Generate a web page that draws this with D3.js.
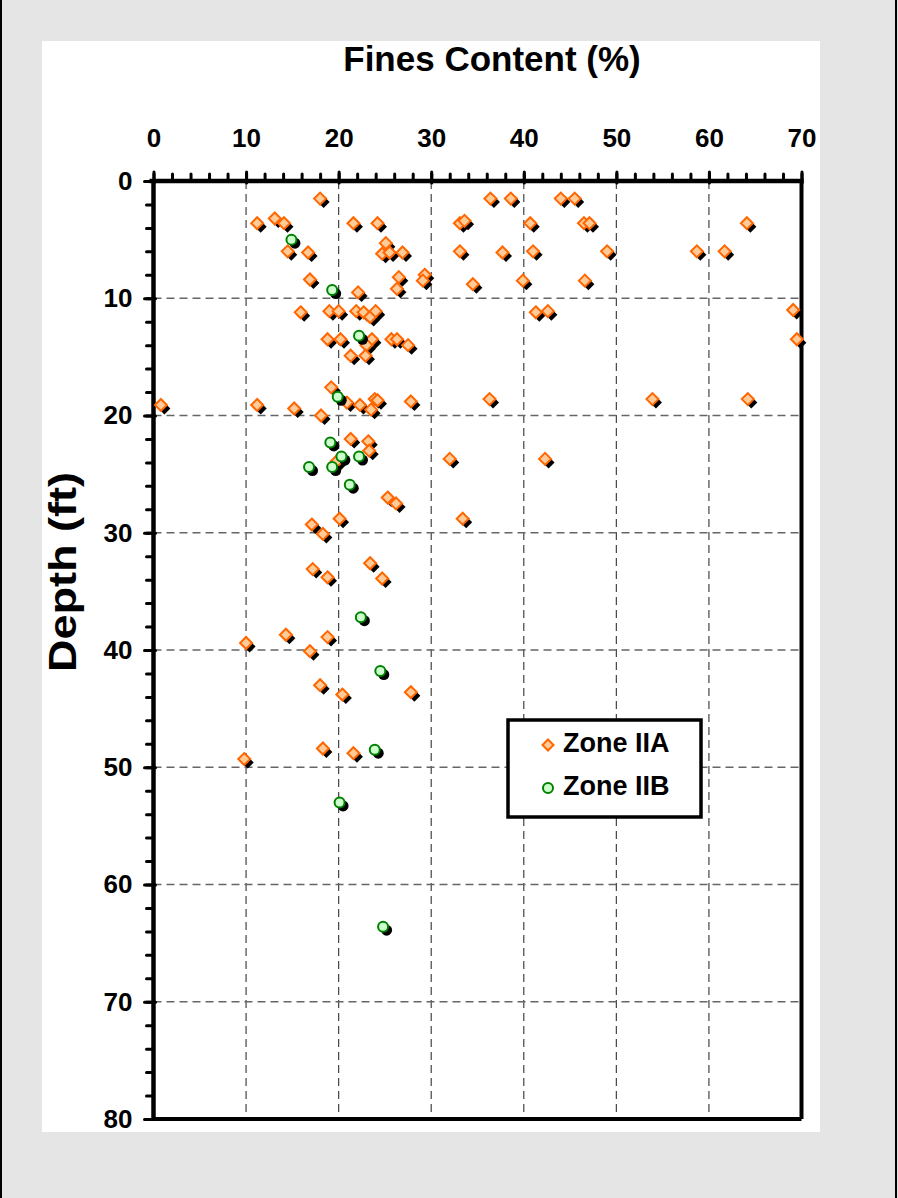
<!DOCTYPE html>
<html>
<head>
<meta charset="utf-8">
<script src="https://cdn.jsdelivr.net/npm/d3@7"></script>
<style>
  html, body { margin: 0; padding: 0; background: #e5e5e5; }
  svg { display: block; }
  text { font-family: "Liberation Sans", Arial, sans-serif; font-weight: bold; fill: #000; }
</style>
</head>
<body>
<svg id="chart" width="898" height="1198"></svg>
<script>
// Fines content (%) and depth (ft) per sample, by zone
const zoneIIA_fines = [18.0, 36.4, 38.6, 44.0, 45.5, 11.2, 13.1, 14.1, 21.6, 24.2, 33.1, 33.6, 40.7, 46.5, 47.1, 64.1,
  14.5, 16.7, 25.1, 24.7, 25.5, 26.9, 33.1, 37.7, 41.0, 49.0, 58.7, 61.7,
  16.9, 22.1, 26.5, 26.3, 29.3, 29.1, 34.5, 39.9, 46.6,
  15.9, 19.0, 20.0, 21.9, 22.7, 23.4, 24.0, 41.3, 42.6, 69.1,
  18.8, 20.2, 23.6, 23.0, 25.7, 26.3, 27.5, 21.3, 22.9, 69.5,
  0.8, 11.2, 15.2, 18.1, 19.2, 20.9, 22.3, 23.5, 23.9, 24.2, 27.8, 36.3, 53.9, 64.2,
  21.3, 23.2, 23.3, 19.8, 32.0, 42.3, 25.3, 26.2, 20.1, 33.4, 17.1, 18.3,
  17.2, 18.8, 23.4, 24.7, 10.0, 14.3, 16.9, 18.8, 18.0, 20.4, 27.8, 18.3, 21.6, 9.8];
const zoneIIA_depth = [1.5, 1.5, 1.5, 1.5, 1.5, 3.6, 3.2, 3.6, 3.6, 3.6, 3.6, 3.4, 3.6, 3.6, 3.6, 3.6,
  6.0, 6.1, 5.3, 6.2, 6.1, 6.1, 6.0, 6.1, 6.0, 6.0, 6.0, 6.0,
  8.4, 9.5, 8.2, 9.2, 8.0, 8.5, 8.8, 8.5, 8.5,
  11.2, 11.1, 11.1, 11.1, 11.2, 11.6, 11.1, 11.2, 11.1, 11.0,
  13.5, 13.5, 13.5, 14.0, 13.5, 13.5, 14.0, 14.9, 14.9, 13.5,
  19.1, 19.1, 19.4, 20.0, 17.6, 18.9, 19.1, 19.5, 18.6, 18.7, 18.8, 18.6, 18.6, 18.6,
  22.0, 22.2, 23.0, 23.9, 23.7, 23.7, 27.0, 27.5, 28.8, 28.8, 29.3, 30.1,
  33.1, 33.8, 32.6, 33.9, 39.4, 38.7, 40.1, 38.9, 43.0, 43.8, 43.6, 48.4, 48.8, 49.3];

const zoneIIB_fines = [14.9, 19.3, 22.2, 19.9, 19.1, 20.3, 22.2, 16.8, 19.3, 21.2, 22.4, 24.5, 23.9, 20.1, 24.8];
const zoneIIB_depth = [5.0, 9.3, 13.2, 18.4, 22.3, 23.5, 23.5, 24.4, 24.4, 25.9, 37.2, 41.8, 48.5, 53.0, 63.6];

const seriesNames = ["Zone IIA", "Zone IIB"];
const xTicks = [0, 10, 20, 30, 40, 50, 60, 70];
const yTicks = [0, 10, 20, 30, 40, 50, 60, 70, 80];
const xTitle = "Fines Content (%)";
const yTitle = "Depth (ft)";

const svg = d3.select("#chart");
const W = 898, H = 1198;

// Outer panel and white chart area
svg.append("rect").attr("x", 0).attr("y", 0).attr("width", W).attr("height", H).attr("fill", "#e5e5e5");
svg.append("line").attr("x1", 1).attr("x2", 1).attr("y1", 0).attr("y2", H).attr("stroke", "#000").attr("stroke-width", 2);
svg.append("line").attr("x1", 896).attr("x2", 896).attr("y1", 0).attr("y2", H).attr("stroke", "#000").attr("stroke-width", 2);
svg.append("rect").attr("x", 42).attr("y", 41).attr("width", 778).attr("height", 1091).attr("fill", "#fff");

const x = d3.scaleLinear().domain([0, 70]).range([153.5, 801.5]);
const y = d3.scaleLinear().domain([0, 80]).range([181, 1119]);

// Dashed grid
const grid = svg.append("g");
grid.selectAll("line.vg").data(xTicks.slice(1, -1)).join("line")
  .attr("x1", d => x(d)).attr("x2", d => x(d)).attr("y1", y(0)).attr("y2", y(80))
  .attr("stroke", "#444").attr("stroke-width", 1.2).attr("stroke-dasharray", "8,5");
grid.selectAll("line.hg").data(yTicks.slice(1, -1)).join("line")
  .attr("x1", x(0)).attr("x2", x(70)).attr("y1", d => y(d)).attr("y2", d => y(d))
  .attr("stroke", "#666").attr("stroke-width", 1.5).attr("stroke-dasharray", "8,5");

// Plot frame (right and bottom edges)
svg.append("line").attr("x1", x(70)).attr("x2", x(70)).attr("y1", y(0)).attr("y2", y(80))
  .attr("stroke", "#000").attr("stroke-width", 4);
svg.append("line").attr("x1", x(0)).attr("x2", x(70)).attr("y1", y(80)).attr("y2", y(80))
  .attr("stroke", "#000").attr("stroke-width", 4);

// Axes: minor ticks every 2 units, major every 10
const xMinor = d3.range(0, 70.001, 2);
const yMinor = d3.range(0, 80.001, 2);

const xAxisMinor = svg.append("g").attr("transform", `translate(0,${y(0)})`)
  .call(d3.axisTop(x).tickValues(xMinor).tickSize(7).tickFormat(""));
const xAxisMajor = svg.append("g").attr("transform", `translate(0,${y(0)})`)
  .call(d3.axisTop(x).tickValues(xTicks).tickSize(9).tickPadding(25).tickFormat(d3.format("d")));
const yAxisMinor = svg.append("g").attr("transform", `translate(${x(0)},0)`)
  .call(d3.axisLeft(y).tickValues(yMinor).tickSize(7).tickFormat(""));
const yAxisMajor = svg.append("g").attr("transform", `translate(${x(0)},0)`)
  .call(d3.axisLeft(y).tickValues(yTicks).tickSize(9).tickPadding(12).tickFormat(d3.format("d")));

[xAxisMinor, xAxisMajor, yAxisMinor, yAxisMajor].forEach(g => {
  g.select(".domain").attr("stroke", "#000").attr("stroke-width", 4.5);
  g.selectAll(".tick line").attr("stroke", "#000").attr("stroke-width", 3).attr("stroke-linecap", "round");
  g.selectAll(".tick text").attr("font-size", 26).attr("font-weight", "bold")
    .attr("font-family", "'Liberation Sans', Arial, sans-serif").attr("fill", "#000");
});
// major ticks cross slightly into the plot
xAxisMajor.selectAll(".tick line").attr("y2", -9).attr("y1", 2);
yAxisMajor.selectAll(".tick line").attr("x2", -9).attr("x1", 2);
xAxisMajor.selectAll(".domain").attr("d", `M${x(0) - 4},0H${x(70) + 2}`);
yAxisMajor.selectAll(".domain").attr("d", `M0,${y(0) - 2}V${y(80) + 2}`);
xAxisMinor.select(".domain").remove();
yAxisMinor.select(".domain").remove();

// Axis titles
svg.append("text").attr("x", 492).attr("y", 71).attr("text-anchor", "middle")
  .attr("font-size", 35).text(xTitle);
svg.append("text").attr("transform", "translate(76,672) rotate(-90)").attr("text-anchor", "start")
  .attr("font-size", 39).attr("textLength", 200).attr("lengthAdjust", "spacingAndGlyphs").text(yTitle);

// Marker shapes
const diamond = s => `M0,${-s}L${s},0L0,${s}L${-s},0Z`;
const dA = diamond(6);
const shadow = 3.5;

const ptsA = zoneIIA_fines.map((f, i) => ({ f, d: zoneIIA_depth[i] }));
const ptsB = zoneIIB_fines.map((f, i) => ({ f, d: zoneIIB_depth[i] }));

const gA = svg.append("g");
gA.selectAll("path.sh").data(ptsA).join("path").attr("class", "sh")
  .attr("d", dA).attr("fill", "#000")
  .attr("transform", p => `translate(${x(p.f) + shadow},${y(p.d) + shadow})`);
gA.selectAll("path.mk").data(ptsA).join("path").attr("class", "mk")
  .attr("d", dA).attr("fill", "#ffcc99").attr("stroke", "#ff6600").attr("stroke-width", 2)
  .attr("transform", p => `translate(${x(p.f)},${y(p.d)})`);

const gB = svg.append("g");
gB.selectAll("circle.sh").data(ptsB).join("circle").attr("class", "sh")
  .attr("cx", p => x(p.f) + shadow).attr("cy", p => y(p.d) + shadow).attr("r", 5.5).attr("fill", "#000");
gB.selectAll("circle.mk").data(ptsB).join("circle").attr("class", "mk")
  .attr("cx", p => x(p.f)).attr("cy", p => y(p.d)).attr("r", 5)
  .attr("fill", "#ccffcc").attr("stroke", "#008000").attr("stroke-width", 2);

// Legend
const lg = svg.append("g");
lg.append("rect").attr("x", 508).attr("y", 720).attr("width", 193).attr("height", 97)
  .attr("fill", "#fff").attr("stroke", "#000").attr("stroke-width", 3.5);
lg.append("path").attr("d", diamond(5.5)).attr("transform", "translate(548,745)")
  .attr("fill", "#ffcc99").attr("stroke", "#ff6600").attr("stroke-width", 2);
lg.append("circle").attr("cx", 548).attr("cy", 788).attr("r", 5)
  .attr("fill", "#ccffcc").attr("stroke", "#008000").attr("stroke-width", 2);
lg.append("text").attr("x", 563).attr("y", 752).attr("font-size", 27).text(seriesNames[0]);
lg.append("text").attr("x", 563).attr("y", 795).attr("font-size", 27).text(seriesNames[1]);
</script>
</body>
</html>
